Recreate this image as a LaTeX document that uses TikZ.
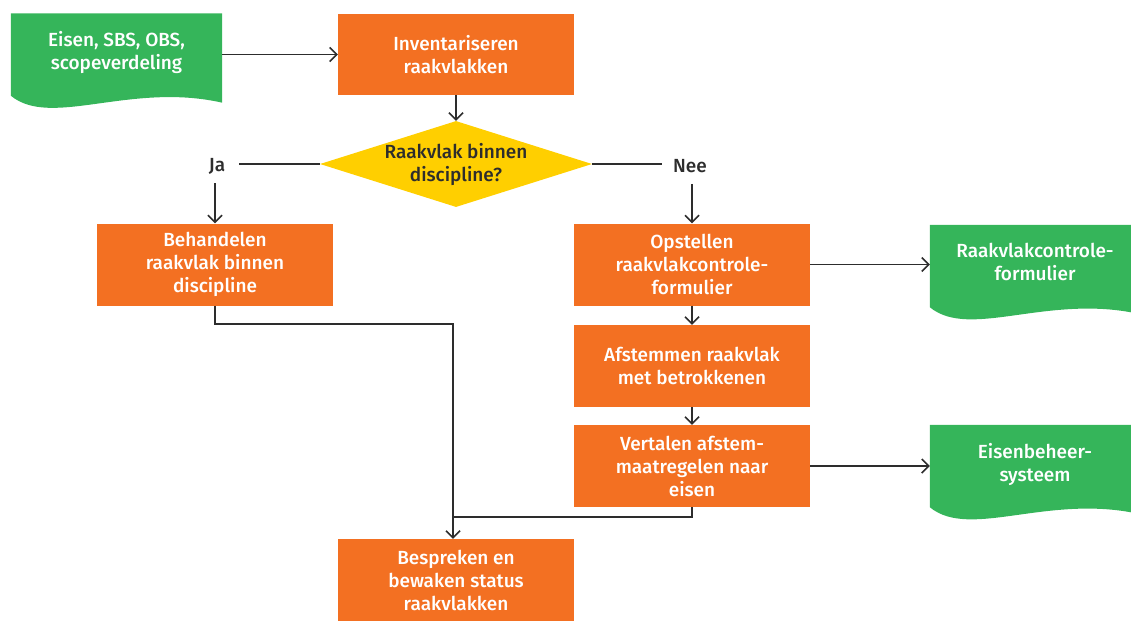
\documentclass[tikz,border=0pt]{standalone}
\usepackage{fontspec}
\setmainfont{Fira Sans}[BoldFont={Fira Sans Medium}]
\usetikzlibrary{arrows.meta,shapes.geometric,calc}
\definecolor{orng}{RGB}{243,112,34}
\definecolor{grn}{RGB}{53,181,90}
\definecolor{ylw}{RGB}{255,207,0}
\definecolor{ink}{RGB}{45,45,45}
\pgfdeclarelayer{bg}
\pgfsetlayers{bg,main}
\newcommand\fs{\fontsize{19}{23}\selectfont\bfseries}
\tikzset{
  box/.style={fill=orng, text=white, minimum width=236pt, minimum height=82pt,
    align=center, inner sep=0pt, font=\fs},
  docbox/.style={text=white, minimum width=#1, minimum height=82pt,
    align=center, inner sep=0pt, font=\fs},
  lbl/.style={text=ink, inner sep=1pt, font=\fs},
  conn/.style={draw=ink, line width=1.6pt},
  arr/.style={conn, -{Straight Barb[length=7pt,width=14pt,line width=1.5pt]}},
}
\newcommand\docfill[1]{%
  \begin{pgfonlayer}{bg}
  \fill[grn] (#1.south west) -- (#1.north west) -- (#1.north east) -- ($(#1.south east)+(0,7)$)
    .. controls ($(#1.south east)+(-92,-14)$) and ($(#1.south west)+(40,33)$) .. (#1.south west) -- cycle;
  \end{pgfonlayer}}
\begin{document}
\begin{tikzpicture}[x=1pt,y=-1pt]
\useasboundingbox (0,0) rectangle (1131,621);
% documents
\node[docbox=211pt] (e1) at (116.5,54.5) {Eisen, SBS, OBS,\\scopeverdeling\\[-15pt]};
\docfill{e1}
\node[docbox=210pt] (rkf) at (1035,266) {Raakvlakcontrole-\\formulier\\[-15pt]};
\docfill{rkf}
\node[docbox=210pt] (e2) at (1035,466) {Eisenbeheer-\\systeem\\[-15pt]};
\docfill{e2}
% process boxes
\node[box, minimum height=81pt] (inv) at (456,54.5) {Inventariseren\\raakvlakken};
\node[diamond, fill=ylw, minimum width=272pt, minimum height=86pt, inner sep=0pt] (dec) at (456,164) {};
\node[text=ink, align=center, font=\fs] (dect) at (dec.center) {Raakvlak binnen\\discipline?};
\node[lbl] (ja) at (217,166) {Ja};
\node[lbl] (nee) at (690,166) {Nee};
\node[box] (beh) at (215,264.5) {Behandelen\\raakvlak binnen\\discipline};
\node[box] (ops) at (692,264.5) {Opstellen\\raakvlakcontrole-\\formulier};
\node[box] (afs) at (692,366) {Afstemmen raakvlak\\met betrokkenen};
\node[box] (ver) at (692,466) {Vertalen afstem-\\maatregelen naar\\eisen};
\node[box] (bes) at (456,580) {Bespreken en\\bewaken status\\raakvlakken};
% connectors
\draw[arr] (e1.east) -- (inv.west);
\draw[arr] (inv.south) -- (dec.north);
\draw[conn] (dec.west) -- ([xshift=13pt]ja.east |- dec.west);
\draw[conn] (dec.east) -- ([xshift=-10pt]nee.west |- dec.east);
\draw[arr] ([yshift=-8pt]ja.south -| beh.north) -- (beh.north);
\draw[arr] ([yshift=-10pt]nee.south -| ops.north) -- (ops.north);
\draw[arr] (ops.east) -- (ops.east -| rkf.west);
\draw[arr] (ops.south) -- (afs.north);
\draw[arr] (afs.south) -- (ver.north);
\draw[arr] (ver.east) -- (ver.east -| e2.west);
\coordinate (besin) at ([xshift=-3pt]bes.north);
\draw[arr] (beh.south) -- ++(0,18) -| (besin);
\coordinate (join) at ($(besin)+(0,-22)$);
\draw[conn] (ver.south) |- (join);
\end{tikzpicture}
\end{document}
